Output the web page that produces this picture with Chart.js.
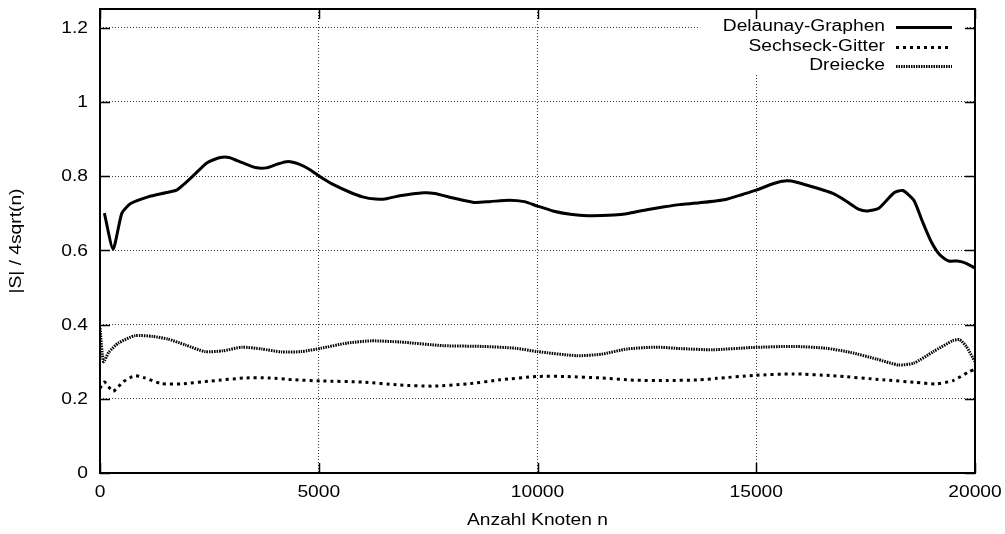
<!DOCTYPE html>
<html>
<head>
<meta charset="utf-8">
<title>Separatorgröße</title>
<script src="https://cdn.jsdelivr.net/npm/chart.js@4/dist/chart.umd.min.js"></script>
<style>
  html, body { margin: 0; padding: 0; background: #fff; }
  #wrap { width: 1005px; height: 534px; }
</style>
</head>
<body>
<div id="wrap"><canvas id="c" width="1005" height="534"></canvas></div>
<script>
// Series: number of nodes n and |S| / 4sqrt(n)
const delaunayN = [100, 300, 500, 700, 1100, 1500, 1750, 1900, 2150, 2450, 2750, 2950, 3250, 3550, 3800, 4050, 4300, 4550, 4800, 5050, 5350, 5700, 6000, 6300, 6550, 6850, 7400, 7650, 8100, 8550, 8900, 9350, 9700, 10000, 10350, 10750, 11150, 11750, 12100, 12500, 12900, 13250, 13700, 14300, 14700, 15000, 15400, 15700, 15900, 16400, 16750, 17050, 17350, 17550, 17800, 18150, 18350, 18600, 18800, 19000, 19200, 19400, 19600, 19800, 20000];
const delaunayV = [0.700, 0.603, 0.700, 0.726, 0.744, 0.755, 0.762, 0.776, 0.803, 0.836, 0.850, 0.850, 0.836, 0.823, 0.822, 0.832, 0.839, 0.832, 0.817, 0.797, 0.776, 0.757, 0.744, 0.738, 0.739, 0.747, 0.755, 0.753, 0.740, 0.729, 0.731, 0.735, 0.731, 0.719, 0.706, 0.697, 0.693, 0.695, 0.700, 0.709, 0.717, 0.723, 0.728, 0.737, 0.751, 0.762, 0.780, 0.787, 0.784, 0.767, 0.753, 0.733, 0.710, 0.706, 0.713, 0.755, 0.761, 0.735, 0.677, 0.623, 0.587, 0.571, 0.571, 0.565, 0.552];

const sechseckN = [0, 100, 300, 520, 800, 1000, 1400, 1850, 2550, 3300, 3850, 4450, 5050, 6000, 6850, 7600, 8400, 9150, 10000, 10650, 11450, 12200, 12950, 13700, 14100, 14950, 15850, 16750, 17900, 18650, 19100, 19500, 19850, 20000];
const sechseckV = [0.228, 0.245, 0.220, 0.245, 0.262, 0.257, 0.241, 0.240, 0.248, 0.256, 0.256, 0.251, 0.248, 0.245, 0.237, 0.234, 0.240, 0.251, 0.260, 0.260, 0.256, 0.250, 0.249, 0.251, 0.255, 0.263, 0.267, 0.262, 0.251, 0.244, 0.240, 0.249, 0.272, 0.280];

const dreieckeN = [0, 80, 200, 420, 800, 1200, 1550, 1950, 2400, 2800, 3250, 3700, 4150, 4600, 5050, 5650, 6200, 6850, 7850, 8750, 9500, 10000, 10900, 11450, 12050, 12700, 13300, 14000, 14900, 15850, 16600, 17150, 17750, 18250, 18600, 19050, 19500, 19650, 19800, 20000];
const dreieckeV = [0.390, 0.300, 0.325, 0.350, 0.370, 0.368, 0.361, 0.345, 0.327, 0.329, 0.339, 0.334, 0.326, 0.327, 0.336, 0.350, 0.356, 0.353, 0.343, 0.341, 0.336, 0.327, 0.316, 0.320, 0.334, 0.339, 0.335, 0.332, 0.338, 0.341, 0.336, 0.325, 0.307, 0.291, 0.296, 0.327, 0.357, 0.359, 0.341, 0.300];

const seriesNames = ['Delaunay-Graphen', 'Sechseck-Gitter', 'Dreiecke'];
const xTicks = ['0', '5000', '10000', '15000', '20000'];
const yTicks = ['0', '0.2', '0.4', '0.6', '0.8', '1', '1.2'];
const xTitle = 'Anzahl Knoten n';
const yTitle = '|S| / 4sqrt(n)';

const toPoints = (ns, vs) => ns.map((n, i) => ({ x: n, y: vs[i] }));

// Line styles shared by the plotted series and the key samples
const styles = [
  { width: 3, dash: [] },
  { width: 3, dash: [3, 4] },
  { width: 3, dash: [1.5, 1] }
];

const FONT = '16px "Liberation Sans", Arial, Helvetica, sans-serif';
const STRETCH = 1.2;

function drawText(ctx, s, x, y, align, rot) {
  ctx.save();
  ctx.translate(x, y);
  if (rot) ctx.rotate(rot);
  ctx.scale(STRETCH, 1);
  ctx.font = FONT;
  ctx.fillStyle = '#000';
  ctx.textAlign = align;
  ctx.textBaseline = 'middle';
  ctx.fillText(s, 0, 0);
  ctx.restore();
}

// gnuplot-like frame, inward ticks, labels and key
const framePlugin = {
  id: 'frame',
  beforeDatasetsDraw(chart) {
    const ctx = chart.ctx;
    ctx.save();
    ctx.fillStyle = '#fff';
    ctx.fillRect(700, 10, 265, 65);
    ctx.restore();
  },
  afterDraw(chart) {
    const { ctx, chartArea: a, scales } = chart;
    const xs = scales.x, ys = scales.y;
    ctx.save();
    ctx.strokeStyle = '#000';
    ctx.lineWidth = 1.5;
    ctx.beginPath();
    yTicks.forEach(t => {
      const py = Math.round(ys.getPixelForValue(Number(t))) + 0.5;
      ctx.moveTo(a.left, py); ctx.lineTo(a.left + 10, py);
      ctx.moveTo(a.right, py); ctx.lineTo(a.right - 10, py);
    });
    xTicks.forEach(t => {
      const px = Math.round(xs.getPixelForValue(Number(t))) + 0.5;
      ctx.moveTo(px, a.bottom); ctx.lineTo(px, a.bottom - 10);
      ctx.moveTo(px, a.top); ctx.lineTo(px, a.top + 10);
    });
    ctx.stroke();
    ctx.lineWidth = 2;
    ctx.strokeRect(a.left, a.top, a.right - a.left, a.bottom - a.top);
    ctx.restore();

    yTicks.forEach(t => drawText(ctx, t, 88, ys.getPixelForValue(Number(t)) + 1, 'right'));
    xTicks.forEach(t => drawText(ctx, t, xs.getPixelForValue(Number(t)), 493, 'center'));
    drawText(ctx, xTitle, (a.left + a.right) / 2, 520.5, 'center');
    drawText(ctx, yTitle, 17, (a.top + a.bottom) / 2, 'center', -Math.PI / 2);

    // key
    const rows = [27, 46.5, 66];
    seriesNames.forEach((name, i) => {
      drawText(ctx, name, 885, rows[i], 'right');
      ctx.save();
      ctx.strokeStyle = '#000';
      ctx.lineWidth = styles[i].width;
      ctx.setLineDash(styles[i].dash);
      ctx.beginPath();
      ctx.moveTo(896, Math.round(rows[i]) + 0.5);
      ctx.lineTo(952, Math.round(rows[i]) + 0.5);
      ctx.stroke();
      ctx.restore();
    });
  }
};

const series = [
  toPoints(delaunayN, delaunayV),
  toPoints(sechseckN, sechseckV),
  toPoints(dreieckeN, dreieckeV)
];

new Chart(document.getElementById('c'), {
  type: 'line',
  data: {
    datasets: series.map((pts, i) => ({
      label: seriesNames[i],
      data: pts,
      borderColor: '#000',
      borderWidth: styles[i].width,
      borderDash: styles[i].dash,
      borderCapStyle: 'butt',
      borderJoinStyle: 'round',
      pointRadius: 0,
      tension: 0.2,
      fill: false
    }))
  },
  options: {
    responsive: false,
    devicePixelRatio: 1,
    animation: false,
    events: [],
    layout: { padding: { left: 0, right: 30, top: 9, bottom: 0 } },
    plugins: { legend: { display: false }, tooltip: { enabled: false }, title: { display: false } },
    scales: {
      x: {
        type: 'linear',
        min: 0, max: 20000,
        ticks: { display: false, stepSize: 5000 },
        grid: { color: '#3a3a3a', lineWidth: 1, drawTicks: false },
        border: { display: false, dash: [1, 2] },
        afterFit(s) { s.height = 61; }
      },
      y: {
        type: 'linear',
        min: 0, max: 1.25,
        ticks: { display: false, stepSize: 0.2, includeBounds: false },
        grid: { color: '#3a3a3a', lineWidth: 1, drawTicks: false },
        border: { display: false, dash: [1, 2] },
        afterFit(s) { s.width = 100; }
      }
    }
  },
  plugins: [framePlugin]
});
</script>
</body>
</html>
